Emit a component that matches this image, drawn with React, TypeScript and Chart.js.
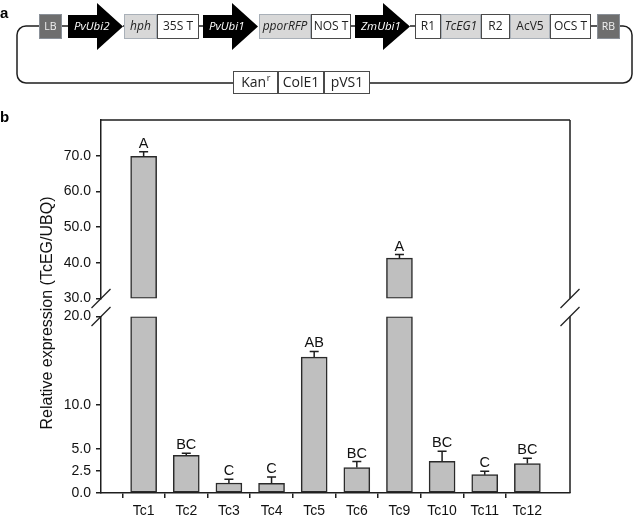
import React, { useEffect, useRef } from 'react';
import { Chart, registerables } from 'chart.js';

Chart.register(...registerables);

// ---------- data ----------
const categories = ['Tc1', 'Tc2', 'Tc3', 'Tc4', 'Tc5', 'Tc6', 'Tc9', 'Tc10', 'Tc11', 'Tc12'];
const means = [69.8, 4.28, 1.13, 1.1, 15.4, 2.88, 41.3, 3.6, 2.08, 3.33];
const errors = [1.3, 0.22, 0.42, 0.7, 0.65, 0.68, 1.0, 1.14, 0.38, 0.61];
const letters = ['A', 'BC', 'C', 'C', 'AB', 'BC', 'A', 'BC', 'C', 'BC'];
const lowerTicks = [0, 2.5, 5, 10, 20];
const upperTicks = [30, 40, 50, 60, 70];
const lowerRange = [0, 20];
const upperRange = [30, 80];
const yTitle = 'Relative expression (TcEG/UBQ)';

const FONT = "'Liberation Sans', Arial, sans-serif";
const DFONT = "'Open Sans', 'Liberation Sans', sans-serif";
const INK = '#1e1e1e';

// padded labels so the category ticks sit at 1..10 of an 0..11 axis
const xLabels = ['', ...categories, ''];
const lowData = [null, ...means.map((v) => Math.min(v, lowerRange[1])), null];
const highData = [null, ...means.map((v) => (v > upperRange[0] ? [upperRange[0], v] : null)), null];

type Box = { x0: number; x1: number; label: string; kind: 'white' | 'gray' | 'dark'; italic?: boolean };

const topBoxes: Box[] = [
  { x0: 39, x1: 62, label: 'LB', kind: 'dark' },
  { x0: 124, x1: 157, label: 'hph', kind: 'gray', italic: true },
  { x0: 157, x1: 199, label: '35S T', kind: 'white' },
  { x0: 259, x1: 311, label: 'pporRFP', kind: 'gray', italic: true },
  { x0: 311, x1: 351, label: 'NOS T', kind: 'white' },
  { x0: 415, x1: 441, label: 'R1', kind: 'white' },
  { x0: 441, x1: 481, label: 'TcEG1', kind: 'gray', italic: true },
  { x0: 481, x1: 510, label: 'R2', kind: 'white' },
  { x0: 510, x1: 550, label: 'AcV5', kind: 'gray' },
  { x0: 550, x1: 591, label: 'OCS T', kind: 'white' },
  { x0: 597, x1: 620, label: 'RB', kind: 'dark' },
];
const arrows = [
  { x0: 68, xh: 97, tip: 123, label: 'PvUbi2' },
  { x0: 203, xh: 232, tip: 258, label: 'PvUbi1' },
  { x0: 355, xh: 383, tip: 410, label: 'ZmUbi1' },
];
const bottomBoxes = [
  { x0: 233, x1: 278, label: 'Kan' },
  { x0: 278, x1: 324, label: 'ColE1' },
  { x0: 324, x1: 370, label: 'pVS1' },
];

function drawDiagram(ctx: CanvasRenderingContext2D) {
  const rowY = 26;
  const bTop = 14;
  const bBot = 39;
  const botY = 83;
  const leftX = 17;
  const rightX = 632;
  const r = 9;
  ctx.save();
  ctx.strokeStyle = INK;
  ctx.lineWidth = 1.5;
  // loop, left side
  ctx.beginPath();
  ctx.moveTo(39, rowY);
  ctx.lineTo(leftX + r, rowY);
  ctx.arcTo(leftX, rowY, leftX, rowY + r, r);
  ctx.lineTo(leftX, botY - r);
  ctx.arcTo(leftX, botY, leftX + r, botY, r);
  ctx.lineTo(233, botY);
  ctx.stroke();
  // loop, right side
  ctx.beginPath();
  ctx.moveTo(620, rowY);
  ctx.lineTo(rightX - r, rowY);
  ctx.arcTo(rightX, rowY, rightX, rowY + r, r);
  ctx.lineTo(rightX, botY - r);
  ctx.arcTo(rightX, botY, rightX - r, botY, r);
  ctx.lineTo(370, botY);
  ctx.stroke();
  // connectors
  const conns = [[62, 68], [123, 124], [199, 203], [351, 355], [410, 415], [591, 597]];
  for (const [a, b] of conns) {
    ctx.beginPath();
    ctx.moveTo(a, rowY);
    ctx.lineTo(b, rowY);
    ctx.stroke();
  }
  // arrows
  for (const a of arrows) {
    ctx.fillStyle = '#000';
    ctx.beginPath();
    ctx.moveTo(a.x0, 15);
    ctx.lineTo(a.xh, 15);
    ctx.lineTo(a.xh, 3);
    ctx.lineTo(a.tip, 26.5);
    ctx.lineTo(a.xh, 50);
    ctx.lineTo(a.xh, 38);
    ctx.lineTo(a.x0, 38);
    ctx.closePath();
    ctx.fill();
    ctx.fillStyle = '#fff';
    ctx.font = `italic 11.5px ${DFONT}`;
    ctx.textAlign = 'left';
    ctx.textBaseline = 'middle';
    ctx.fillText(a.label, a.x0 + 6, rowY + 1);
  }
  // top boxes
  for (const b of topBoxes) {
    const fill = b.kind === 'dark' ? '#6e6e6e' : b.kind === 'gray' ? '#d8d8d8' : '#ffffff';
    const stroke = b.kind === 'dark' ? '#8a9098' : b.kind === 'gray' ? '#a9b0b8' : '#4a4a4a';
    ctx.fillStyle = fill;
    ctx.fillRect(b.x0, bTop, b.x1 - b.x0, bBot - bTop);
    ctx.strokeStyle = stroke;
    ctx.lineWidth = 1;
    ctx.strokeRect(b.x0 + 0.5, bTop + 0.5, b.x1 - b.x0 - 1, bBot - bTop - 1);
    ctx.fillStyle = b.kind === 'dark' ? '#f2f2f2' : '#222';
    ctx.font = `${b.italic ? 'italic ' : ''}${b.kind === 'dark' ? 10.5 : 12}px ${DFONT}`;
    ctx.textAlign = 'center';
    ctx.textBaseline = 'middle';
    ctx.fillText(b.label, (b.x0 + b.x1) / 2, (bTop + bBot) / 2 + 0.5);
  }
  // bottom boxes
  for (const b of bottomBoxes) {
    ctx.fillStyle = '#fff';
    ctx.fillRect(b.x0, 71, b.x1 - b.x0, 23);
    ctx.strokeStyle = '#4a4a4a';
    ctx.lineWidth = 1;
    ctx.strokeRect(b.x0 + 0.5, 71.5, b.x1 - b.x0 - 1, 22);
    ctx.fillStyle = '#222';
    ctx.textBaseline = 'middle';
    ctx.font = `14px ${DFONT}`;
    const cx = (b.x0 + b.x1) / 2;
    if (b.label === 'Kan') {
      const w = ctx.measureText('Kan').width;
      ctx.font = `9px ${DFONT}`;
      const ws = ctx.measureText('r').width;
      const start = cx - (w + ws) / 2;
      ctx.textAlign = 'left';
      ctx.font = `14px ${DFONT}`;
      ctx.fillText('Kan', start, 83);
      ctx.font = `9px ${DFONT}`;
      ctx.fillText('r', start + w + 0.5, 78);
    } else {
      ctx.textAlign = 'center';
      ctx.fillText(b.label, cx, 83);
    }
  }
  // panel letters
  ctx.fillStyle = '#000';
  ctx.font = `bold 15px ${FONT}`;
  ctx.textAlign = 'left';
  ctx.textBaseline = 'alphabetic';
  ctx.fillText('a', 0, 18);
  ctx.fillText('b', 0, 122);
  ctx.restore();
}

const decorPlugin = {
  id: 'decor',
  afterDraw(chart: any) {
    const ctx: CanvasRenderingContext2D = chart.ctx;
    const { left, right, top } = chart.chartArea;
    const yLow = chart.scales.yLow;
    const yHigh = chart.scales.yHigh;
    const x = chart.scales.x;
    ctx.save();
    ctx.strokeStyle = INK;
    ctx.lineWidth = 1.5;
    // frame top + right
    ctx.beginPath();
    ctx.moveTo(left, top);
    ctx.lineTo(right, top);
    ctx.moveTo(right, yHigh.top);
    ctx.lineTo(right, yHigh.bottom);
    ctx.moveTo(right, yLow.top);
    ctx.lineTo(right, yLow.bottom);
    ctx.stroke();
    // break marks
    ctx.lineWidth = 1.2;
    for (const px of [left, right]) {
      for (const py of [yHigh.bottom, yLow.top]) {
        ctx.beginPath();
        ctx.moveTo(px - 9.5, py + 9.5);
        ctx.lineTo(px + 9.5, py - 9.5);
        ctx.stroke();
      }
    }
    // error bars + letters
    ctx.lineWidth = 1.5;
    ctx.fillStyle = '#111';
    ctx.font = `14.5px ${FONT}`;
    ctx.textAlign = 'center';
    ctx.textBaseline = 'alphabetic';
    means.forEach((v, i) => {
      const s = v > upperRange[0] ? yHigh : yLow;
      const px = x.getPixelForValue(i + 1);
      const yb = s.getPixelForValue(v);
      const yt = s.getPixelForValue(v + errors[i]);
      ctx.beginPath();
      ctx.moveTo(px, yb);
      ctx.lineTo(px, yt);
      ctx.moveTo(px - 4.5, yt);
      ctx.lineTo(px + 4.5, yt);
      ctx.stroke();
      ctx.fillText(letters[i], px, yt - 4);
    });
    // y title
    ctx.save();
    ctx.translate(48, 313);
    ctx.rotate(-Math.PI / 2);
    ctx.font = `16px ${FONT}`;
    ctx.fillStyle = '#111';
    ctx.textAlign = 'center';
    ctx.textBaseline = 'middle';
    ctx.fillText(yTitle, 0, 0);
    ctx.restore();
    ctx.restore();
    drawDiagram(ctx);
  },
};

const tickFont = { family: FONT, size: 14 };

function yScale(range: number[], ticks: number[], weight: number) {
  return {
    type: 'linear',
    position: 'left',
    stack: 'ystack',
    stackWeight: weight,
    min: range[0],
    max: range[1],
    afterBuildTicks: (s: any) => {
      s.ticks = ticks.map((v) => ({ value: v }));
    },
    afterFit: (s: any) => {
      s.width = 101;
    },
    ticks: {
      font: tickFont,
      color: '#111',
      padding: 5,
      callback: (v: any) => Number(v).toFixed(1),
    },
    grid: { drawOnChartArea: false, tickLength: 5, color: INK, lineWidth: 1.5 },
    border: { display: true, color: INK, width: 1.5 },
  };
}

export default function App() {
  const ref = useRef<HTMLCanvasElement>(null);
  useEffect(() => {
    const canvas = ref.current;
    if (!canvas) return;
    const barStyle = {
      backgroundColor: '#bfbfbf',
      borderColor: '#2a2a2a',
      borderWidth: 1.5,
      borderSkipped: false,
      barThickness: 26,
      grouped: false,
    };
    const chart = new Chart(canvas, {
      type: 'bar',
      data: {
        labels: xLabels,
        datasets: [
          { label: 'lower', data: lowData as any, yAxisID: 'yLow', ...barStyle },
          { label: 'upper', data: highData as any, yAxisID: 'yHigh', ...barStyle },
        ],
      },
      options: {
        responsive: false,
        animation: false,
        layout: { padding: { left: 0, top: 120, right: 68, bottom: 0 } },
        plugins: { legend: { display: false }, tooltip: { enabled: false }, title: { display: false } },
        scales: {
          x: {
            type: 'category',
            offset: false,
            afterFit: (s: any) => {
              s.height = 24;
            },
            ticks: { font: tickFont, color: '#111', padding: 5, maxRotation: 0, autoSkip: false },
            grid: {
              drawOnChartArea: false,
              tickLength: 5,
              lineWidth: 1.5,
              color: (c: any) => (c.index === 0 || c.index === xLabels.length - 1 ? 'rgba(0,0,0,0)' : INK),
              tickColor: (c: any) => (c.index === 0 || c.index === xLabels.length - 1 ? 'rgba(0,0,0,0)' : INK),
            },
            border: { display: true, color: INK, width: 1.5 },
          },
          yLow: yScale(lowerRange, lowerTicks, 176),
          yGap: {
            type: 'linear',
            position: 'left',
            stack: 'ystack',
            stackWeight: 18,
            afterFit: (s: any) => {
              s.width = 101;
            },
            ticks: { display: false },
            grid: { display: false },
            border: { display: false },
          },
          yHigh: yScale(upperRange, upperTicks, 178),
        } as any,
      },
      plugins: [decorPlugin],
    } as any);
    return () => chart.destroy();
  }, []);
  return (
    <div style={{ position: 'absolute', left: 0, top: 0, width: 638, height: 517, background: '#fff' }}>
      <canvas ref={ref} width={638} height={517} style={{ display: 'block', width: 638, height: 517 }} />
    </div>
  );
}
